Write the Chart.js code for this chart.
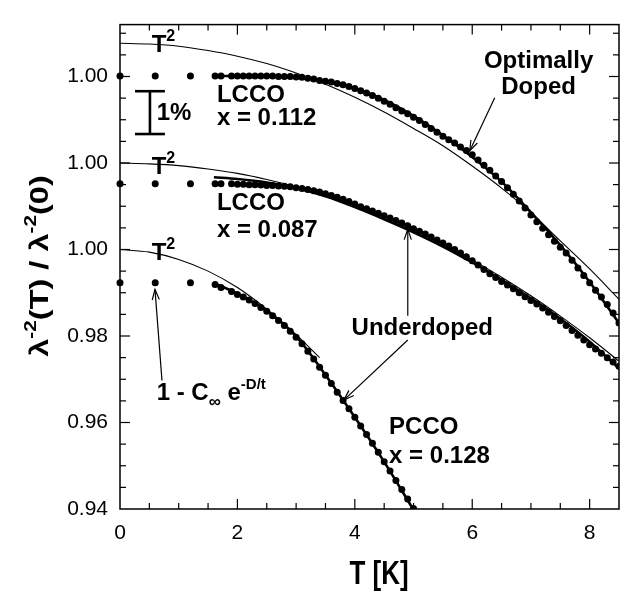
<!DOCTYPE html>
<html>
<head>
<meta charset="utf-8">
<script src="https://cdn.jsdelivr.net/npm/chart.js@4/dist/chart.umd.min.js"></script>
<style>
  html, body { margin: 0; padding: 0; background: #fff; }
  canvas { display: block; }
</style>
</head>
<body>
<canvas id="c" width="629" height="594"></canvas>
<script>
// ---------------- DATA ----------------
// Temperatures of the measured points (K)
const tDots = [0, 0.6, 1.2, 1.62, 1.72, 1.9, 2.0, 2.1, 2.2, 2.3, 2.4, 2.5, 2.6, 2.7, 2.8, 2.9,
  3.0, 3.1, 3.2, 3.3, 3.4, 3.5, 3.6, 3.7, 3.8, 3.9, 4.0, 4.1, 4.2, 4.3, 4.4, 4.5, 4.6, 4.7, 4.8, 4.9,
  5.0, 5.1, 5.2, 5.3, 5.4, 5.5, 5.6, 5.7, 5.8, 5.9, 6.0, 6.1, 6.2, 6.3, 6.4, 6.5, 6.6, 6.7, 6.8, 6.9,
  7.0, 7.1, 7.2, 7.3, 7.4, 7.5, 7.6, 7.7, 7.8, 7.9, 8.0, 8.1, 8.2, 8.3, 8.4, 8.5];
// LCCO x = 0.112 (optimally doped), offset on the plot
const lcco112 = [1.0401, 1.0401, 1.0401, 1.0401, 1.0401, 1.0401, 1.0401, 1.0401, 1.0401, 1.0401, 1.0401, 1.0401, 1.0401, 1.0400, 1.0400, 1.0400,
  1.0399, 1.0398, 1.0396, 1.0394, 1.0391, 1.0389, 1.0387, 1.0384, 1.0381, 1.0377, 1.0372, 1.0367, 1.0362, 1.0356, 1.0350, 1.0343, 1.0336, 1.0328, 1.0320, 1.0314,
  1.0306, 1.0298, 1.0289, 1.0280, 1.0271, 1.0262, 1.0254, 1.0246, 1.0237, 1.0229, 1.0219, 1.0207, 1.0195, 1.0183, 1.0170, 1.0157, 1.0143, 1.0128, 1.0112, 1.0096,
  1.0080, 1.0064, 1.0049, 1.0034, 1.0019, 1.0005, 0.9992, 0.9975, 0.9957, 0.9940, 0.9923, 0.9906, 0.9890, 0.9873, 0.9853, 0.9830];
// LCCO x = 0.087 (underdoped)
const lcco087 = [1.0152, 1.0152, 1.0152, 1.0152, 1.0152, 1.0152, 1.0151, 1.0151, 1.0150, 1.0150, 1.0149, 1.0148, 1.0148, 1.0147, 1.0146, 1.0145,
  1.0143, 1.0141, 1.0139, 1.0136, 1.0133, 1.0129, 1.0125, 1.0121, 1.0116, 1.0111, 1.0105, 1.0099, 1.0094, 1.0089, 1.0084, 1.0078, 1.0073, 1.0067, 1.0061, 1.0055,
  1.0048, 1.0042, 1.0036, 1.0029, 1.0022, 1.0015, 1.0008, 1.0000, 0.9992, 0.9983, 0.9974, 0.9964, 0.9954, 0.9944, 0.9935, 0.9926, 0.9918, 0.9909, 0.9900, 0.9891,
  0.9882, 0.9874, 0.9865, 0.9855, 0.9845, 0.9835, 0.9824, 0.9813, 0.9802, 0.9791, 0.9780, 0.9770, 0.9760, 0.9750, 0.9740, 0.9730];
// PCCO x = 0.128 (underdoped)
const tPcco = [0, 0.6, 1.2, 1.62, 1.72, 1.9, 2.0, 2.1, 2.2, 2.3, 2.4, 2.5, 2.6, 2.7, 2.8, 2.9,
  3.0, 3.1, 3.2, 3.3, 3.4, 3.5, 3.6, 3.7, 3.8, 3.9, 4.0, 4.1, 4.2, 4.3, 4.4, 4.5, 4.6, 4.7, 4.8, 4.9, 5.0];
const pcco128 = [0.9923, 0.9923, 0.9923, 0.9919, 0.9912, 0.9903, 0.9896, 0.9890, 0.9883, 0.9875, 0.9866, 0.9857, 0.9847, 0.9836, 0.9824, 0.9811,
  0.9797, 0.9782, 0.9765, 0.9747, 0.9728, 0.9709, 0.9690, 0.9670, 0.9651, 0.9632, 0.9612, 0.9592, 0.9572, 0.9552, 0.9531, 0.9509, 0.9488, 0.9466, 0.9445, 0.9423, 0.9401];

// T^2 fits (thin lines)
const tT2 = [0, 0.5, 1, 1.5, 2, 2.5, 3, 3.5, 4, 4.5, 5, 5.5, 6, 6.5, 7, 7.5, 8, 8.5];
const t2Lcco112 = [1.0477, 1.0475, 1.0470, 1.0460, 1.0447, 1.0430, 1.0408, 1.0382, 1.0352, 1.0318, 1.0280, 1.0240, 1.0193, 1.0142, 1.0085, 1.0020, 0.9955, 0.9885];
const t2Lcco087 = [1.0200, 1.0198, 1.0194, 1.0186, 1.0176, 1.0162, 1.0145, 1.0125, 1.0102, 1.0075, 1.0045, 1.0012, 0.9976, 0.9936, 0.9893, 0.9846, 0.9796, 0.9742];
const tT2Pcco = [0, 0.5, 1, 1.5, 2, 2.5, 3, 3.4];
const t2Pcco128 = [1.0000, 0.9994, 0.9977, 0.9950, 0.9912, 0.9862, 0.9803, 0.9750];

// 1 - C exp(-D/t) fits (thick lines)
const tExp = [1.6, 2, 2.5, 3, 3.5, 4, 4.5, 5, 5.5, 6, 6.5, 7, 7.5, 8, 8.5];
const expLcco112 = [1.0401, 1.0401, 1.0400, 1.0398, 1.0390, 1.0373, 1.0346, 1.0309, 1.0264, 1.0214, 1.0157, 1.0086, 1.0010, 0.9925, 0.9830];
const expLcco087 = [1.0167, 1.0163, 1.0155, 1.0142, 1.0123, 1.0098, 1.0070, 1.0040, 1.0007, 0.9970, 0.9930, 0.9887, 0.9840, 0.9787, 0.9725];
const tExpPcco = [1.6, 2, 2.5, 3, 3.5, 4, 4.5, 5];
const expPcco128 = [0.9922, 0.9898, 0.9858, 0.9799, 0.9710, 0.9612, 0.9509, 0.9398];

// Tick labels
const xTickValues = [0, 2, 4, 6, 8];
const xTickLabels = ['0', '2', '4', '6', '8'];
const yTickValues = [0.94, 0.96, 0.98, 1.00, 1.02, 1.04];
const yTickLabels = ['0.94', '0.96', '0.98', '1.00', '1.00', '1.00'];

// ---------------- CHART ----------------
const FF = '"Liberation Sans", Arial, Helvetica, sans-serif';
const pts = (xs, ys) => xs.map((v, i) => ({ x: v, y: ys[i] }));

const dotStyle = { showLine: false, pointRadius: 3.5, pointHoverRadius: 3.5, pointBackgroundColor: '#000', pointBorderWidth: 0, borderColor: '#000', clip: { left: 5, right: 0, top: 0, bottom: 0 } };
const thin = { showLine: true, pointRadius: 0, borderColor: '#000', borderWidth: 1.1, cubicInterpolationMode: 'monotone', fill: false };
const thick = { showLine: true, pointRadius: 0, borderColor: '#000', borderWidth: 2.6, cubicInterpolationMode: 'monotone', fill: false };

function line(ctx, x1, y1, x2, y2) { ctx.beginPath(); ctx.moveTo(x1, y1); ctx.lineTo(x2, y2); ctx.stroke(); }
function arrow(ctx, x1, y1, x2, y2) {
  line(ctx, x1, y1, x2, y2);
  const a = Math.atan2(y2 - y1, x2 - x1), L = 11, h = 0.33;
  ctx.beginPath();
  ctx.moveTo(x2 - L * Math.cos(a - h), y2 - L * Math.sin(a - h));
  ctx.lineTo(x2, y2);
  ctx.lineTo(x2 - L * Math.cos(a + h), y2 - L * Math.sin(a + h));
  ctx.stroke();
}
function rich(ctx, x, y, parts, align) {
  let w = 0;
  parts.forEach(p => { ctx.font = `bold ${p[1]}px ${FF}`; w += ctx.measureText(p[0]).width; });
  let cx = align === 'center' ? x - w / 2 : x;
  ctx.textAlign = 'left'; ctx.textBaseline = 'middle';
  parts.forEach(p => { ctx.font = `bold ${p[1]}px ${FF}`; ctx.fillText(p[0], cx, y + (p[2] || 0)); cx += ctx.measureText(p[0]).width; });
}

const near = (arr, v) => arr.some(a => Math.abs(a - v) < 1e-6);

const annot = {
  id: 'annot',
  afterDatasetsDraw(chart) {
    const { ctx, scales: { x, y }, chartArea: a } = chart;
    const X = v => x.getPixelForValue(v), Y = v => y.getPixelForValue(v);
    ctx.save();
    ctx.strokeStyle = '#000'; ctx.fillStyle = '#000';
    // frame
    ctx.lineWidth = 1.5;
    ctx.strokeRect(a.left, a.top, a.right - a.left, a.bottom - a.top);
    // ticks (inward)
    ctx.lineWidth = 1.2;
    for (let i = 0; i <= 17; i++) {
      const v = i * 0.5, px = X(v), L = near(xTickValues, v) ? 10 : 6;
      if (px > a.left + 1 && px < a.right - 1) { line(ctx, px, a.bottom, px, a.bottom - L); line(ctx, px, a.top, px, a.top + L); }
    }
    for (let i = 0; i <= 22; i++) {
      const v = Math.round((0.94 + i * 0.005) * 1000) / 1000, py = Y(v), L = near(yTickValues, v) ? 10 : 6;
      if (py > a.top + 1 && py < a.bottom - 1) { line(ctx, a.left, py, a.left + L, py); line(ctx, a.right, py, a.right - L, py); }
    }
    // T^2 labels
    [1.0471, 1.0190, 0.9991].forEach(v => rich(ctx, X(0.54), Y(v), [['T', 24], ['2', 16, -9]]));
    // sample labels
    rich(ctx, X(1.651), Y(1.0357), [['LCCO', 24]]);
    rich(ctx, X(1.651), Y(1.0303), [['x = 0.112', 24]]);
    rich(ctx, X(1.651), Y(1.0107), [['LCCO', 24]]);
    rich(ctx, X(1.651), Y(1.0045), [['x = 0.087', 24]]);
    rich(ctx, X(4.584), Y(0.9589), [['PCCO', 24]]);
    rich(ctx, X(4.584), Y(0.9522), [['x = 0.128', 24]]);
    rich(ctx, X(7.13), Y(1.0434), [['Optimally', 24]], 'center');
    rich(ctx, X(7.13), Y(1.0374), [['Doped', 24]], 'center');
    rich(ctx, X(5.149), Y(0.98177), [['Underdoped', 24]], 'center');
    rich(ctx, X(0.625), Y(0.96675), [['1 - C', 24], ['\u221E', 17, 9], [' e', 24], ['-D/t', 15, -8]]);
    rich(ctx, X(0.625), Y(1.0315), [['1%', 24]]);
    // 1% error bar
    ctx.lineWidth = 2.6;
    line(ctx, X(0.51), Y(1.0267), X(0.51), Y(1.0366));
    line(ctx, X(0.255), Y(1.0366), X(0.765), Y(1.0366));
    line(ctx, X(0.255), Y(1.0267), X(0.765), Y(1.0267));
    // arrows
    ctx.lineWidth = 1.2;
    arrow(ctx, X(6.383), Y(1.0351), X(5.957), Y(1.0228));
    arrow(ctx, X(4.902), Y(0.98469), X(4.902), Y(1.0047));
    arrow(ctx, X(4.902), Y(0.97908), X(3.813), Y(0.96518));
    arrow(ctx, X(0.715), Y(0.96971), X(0.596), Y(0.99078));
    // axis titles (tall lettering)
    ctx.save();
    ctx.translate(379, 575); ctx.scale(1, 1.27);
    rich(ctx, 0, 0, [['T [K]', 26]], 'center');
    ctx.restore();
    ctx.save();
    ctx.translate(41, 266); ctx.rotate(-Math.PI / 2); ctx.scale(1.3, 1);
    rich(ctx, 0, 0, [['\u03BB', 25], ['-2', 16, -9], ['(T) / \u03BB', 25], ['-2', 16, -9], ['(0)', 25]], 'center');
    ctx.restore();
    ctx.restore();
  }
};

new Chart(document.getElementById('c'), {
  type: 'scatter',
  data: {
    datasets: [
      Object.assign({ data: pts(tDots, lcco112) }, dotStyle),
      Object.assign({ data: pts(tDots, lcco087) }, dotStyle),
      Object.assign({ data: pts(tPcco, pcco128) }, dotStyle),
      Object.assign({ data: pts(tExp, expLcco112) }, thick),
      Object.assign({ data: pts(tExp, expLcco087) }, thick),
      Object.assign({ data: pts(tExpPcco, expPcco128) }, thick),
      Object.assign({ data: pts(tT2, t2Lcco112) }, thin),
      Object.assign({ data: pts(tT2, t2Lcco087) }, thin),
      Object.assign({ data: pts(tT2Pcco, t2Pcco128) }, thin)
    ]
  },
  options: {
    responsive: false,
    animation: false,
    events: [],
    layout: { padding: { left: 0, right: 10, top: 10, bottom: 0 } },
    plugins: { legend: { display: false }, tooltip: { enabled: false } },
    scales: {
      x: {
        type: 'linear', position: 'bottom', min: 0, max: 8.5,
        afterBuildTicks: s => { s.ticks = xTickValues.map(v => ({ value: v })); },
        afterFit: s => { s.height = 85; },
        grid: { display: false, drawTicks: false },
        border: { display: false },
        ticks: { color: '#000', font: { family: FF, size: 21 }, padding: 12, maxRotation: 0, autoSkip: false,
          callback: (v, i) => xTickLabels[i] }
      },
      y: {
        type: 'linear', position: 'left', min: 0.94, max: 1.052,
        afterBuildTicks: s => { s.ticks = yTickValues.map(v => ({ value: v })); },
        afterFit: s => { s.width = 120; },
        grid: { display: false, drawTicks: false },
        border: { display: false },
        ticks: { color: '#000', font: { family: FF, size: 21 }, padding: 12, autoSkip: false,
          callback: (v, i) => yTickLabels[i] }
      }
    }
  },
  plugins: [annot]
});
</script>
</body>
</html>
